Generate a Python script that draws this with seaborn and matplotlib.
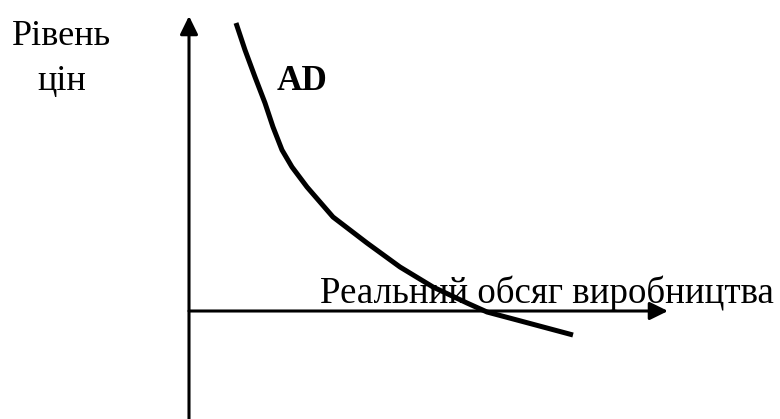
import matplotlib
matplotlib.use("Agg")
import matplotlib.pyplot as plt
import seaborn as sns
import pandas as pd

# AD curve (real output Q, price level P), origin at axes crossing
q_values = [0.47, 0.56, 0.66, 0.76, 0.84, 0.93, 1.03, 1.18, 1.44, 1.78,
            2.11, 2.44, 2.78, 2.98, 3.28, 3.84]
p_values = [2.88, 2.61, 2.34, 2.08, 1.84, 1.61, 1.44, 1.24, 0.94, 0.68,
            0.44, 0.24, 0.08, -0.01, -0.09, -0.24]
y_label_lines = ["Рівень", "цін"]
x_label = "Реальний обсяг виробництва"
curve_label = "AD"

sns.set_theme(style="white")
plt.rcParams['font.family'] = ['Liberation Serif', 'DejaVu Serif']

fig = plt.figure(figsize=(7.8, 4.19), dpi=100)
ax = fig.add_axes([0, 0, 1, 1])
ax.set_xlim(-1.89, 5.91)
ax.set_ylim(-1.08, 3.11)
ax.axis("off")

df = pd.DataFrame({"Q": q_values, "P": p_values})
sns.lineplot(data=df, x="Q", y="P", sort=False, color="black", linewidth=3.6,
             ax=ax, legend=False, solid_capstyle="butt", solid_joinstyle="round")

arrow = dict(arrowstyle="-|>,head_length=0.55,head_width=0.27", color="black",
             lw=2.2, mutation_scale=20, shrinkA=0, shrinkB=0)
ax.annotate("", xy=(0, 2.95), xytext=(0, -1.10), arrowprops=arrow)
ax.annotate("", xy=(4.79, 0), xytext=(0, 0), arrowprops=arrow)

fig.canvas.draw()
r = fig.canvas.get_renderer()

def fit(t, target_w):
    bb = t.get_window_extent(renderer=r)
    t.set_fontsize(t.get_fontsize() * target_w / bb.width)

t1 = ax.text(-1.27, 2.66, y_label_lines[0], ha="center", va="baseline", fontsize=24, color="black")
t2 = ax.text(-1.27, 2.21, y_label_lines[1], ha="center", va="baseline", fontsize=24, color="black")
t3 = ax.text(0.88, 2.21, curve_label, ha="left", va="baseline", fontsize=25,
             fontweight="bold", color="black")
t4 = ax.text(1.31, 0.08, x_label, ha="left", va="baseline", fontsize=25, color="black")
fit(t1, 99)
t2.set_fontsize(t1.get_fontsize())
fit(t3, 51)
fit(t4, 457)

fig.savefig("out.png", dpi=100)
